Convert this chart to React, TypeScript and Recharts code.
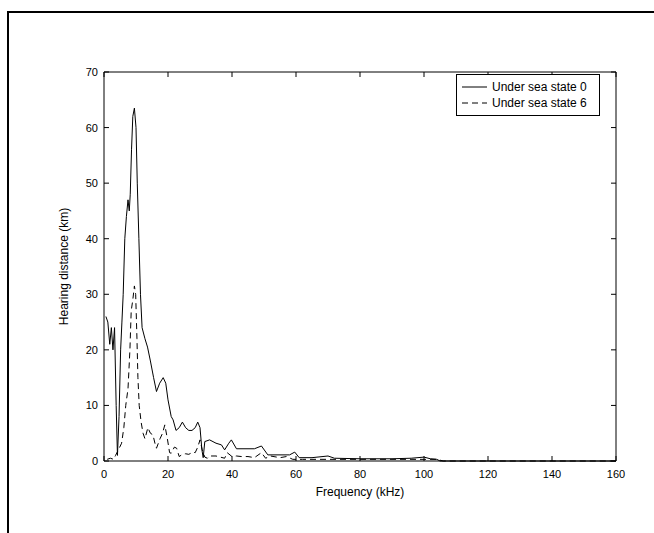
import React from 'react';
import { LineChart, Line, XAxis, YAxis } from 'recharts';

// sea state 0 (solid)
const freq0 = [0.6, 1.2, 1.8, 2.3, 2.8, 3.3, 3.8, 4.2, 4.7, 5.2, 5.6, 6.0, 6.5, 7.0, 7.5, 7.9, 8.2, 8.6, 9.0, 9.5, 10.0, 10.4, 10.9, 11.4, 11.9, 12.8, 13.6, 14.5, 15.5, 16.4, 17.4, 18.5, 19.3, 20.0, 21.0, 21.6, 22.5, 23.5, 24.5, 25.5, 26.5, 27.5, 28.5, 29.3, 30.0, 30.6, 31.0, 31.5, 33.0, 35.0, 36.7, 37.7, 39.0, 39.8, 41.4, 45, 47, 49.2, 51.2, 55, 58, 59.6, 61, 65, 70, 72, 80, 90, 96, 100, 102, 104, 105, 160];
const dist0 = [26, 25, 21, 24, 20, 24, 10, 1, 8, 20, 25, 30, 40, 44, 47, 45, 48, 56, 62, 63.5, 60, 50, 40, 30, 24, 22, 20.5, 18, 15, 12.5, 14, 15, 14, 11, 8, 7.4, 5.5, 6, 7, 6, 5.5, 5.5, 6, 7, 6, 2, 0.6, 3.5, 3.8, 3.2, 2.9, 2, 3.2, 3.8, 2.2, 2.2, 2.2, 2.7, 1.1, 1.1, 1.1, 1.6, 0.6, 0.6, 0.9, 0.5, 0.4, 0.4, 0.5, 0.7, 0.4, 0.3, 0, 0];

// sea state 6 (dashed)
const freq6 = [1.0, 2.0, 3.0, 3.6, 4.5, 5.5, 6.2, 6.8, 7.5, 8.1, 8.5, 9.0, 9.5, 9.9, 10.3, 10.6, 11.0, 11.6, 12.2, 12.8, 13.7, 14.5, 15.3, 16.0, 16.4, 17.5, 18.3, 19.0, 19.8, 20.5, 21.0, 22.0, 22.7, 23.5, 24.5, 25.5, 26.5, 27.8, 28.5, 29.3, 30.0, 30.7, 31.5, 32.3, 33.0, 35, 37.7, 38.5, 40, 41.4, 43, 45, 47, 49.2, 50.5, 52, 55, 57, 59, 62, 70, 80, 90, 100, 104, 106, 160];
const dist6 = [0.3, 0.5, 0.3, 1, 2, 3.2, 6, 10, 13, 20, 27, 29, 31.5, 30, 22, 15, 10, 7, 5, 4, 6, 5, 4.7, 3, 2.3, 4, 5, 6.5, 4, 1.5, 1.4, 2.5, 2.3, 0.8, 1.2, 1.3, 1.2, 1.6, 1.5, 2.5, 3.8, 2, 0.7, 0.5, 0.9, 0.9, 0.5, 1.5, 0.8, 0.9, 0.8, 0.8, 0.6, 1.5, 0.5, 0.9, 0.6, 0.8, 0.3, 0.3, 0.3, 0.3, 0.3, 0.3, 0.3, 0, 0];

const xTicks = [0, 20, 40, 60, 80, 100, 120, 140, 160];
const yTicks = [0, 10, 20, 30, 40, 50, 60, 70];
const seriesNames = ['Under sea state 0', 'Under sea state 6'];

const data0 = freq0.map((f, i) => ({ f, d: dist0[i] }));
const data6 = freq6.map((f, i) => ({ f, d: dist6[i] }));

const FONT = '"Liberation Sans", Arial, sans-serif';

const BottomTick = (props: any) => {
  const { x, y, payload } = props;
  const ay = y - 9;
  return (
    <g>
      <line x1={x} x2={x} y1={ay} y2={ay - 5} stroke="#000" />
      <text x={x} y={ay + 17} textAnchor="middle" fontSize={11} fontFamily={FONT} fill="#000">
        {payload.value}
      </text>
    </g>
  );
};

const TopTick = (props: any) => {
  const { x, y } = props;
  const ay = y + 9;
  return <line x1={x} x2={x} y1={ay} y2={ay + 5} stroke="#000" />;
};

const LeftTick = (props: any) => {
  const { x, y, payload } = props;
  const ax = x + 9;
  return (
    <g>
      <line x1={ax} x2={ax + 5} y1={y} y2={y} stroke="#000" />
      <text x={ax - 6} y={y + 4} textAnchor="end" fontSize={11} fontFamily={FONT} fill="#000">
        {payload.value}
      </text>
    </g>
  );
};

const RightTick = (props: any) => {
  const { x, y } = props;
  const ax = x - 9;
  return <line x1={ax} x2={ax - 5} y1={y} y2={y} stroke="#000" />;
};

const LegendBox = () => (
  <div
    style={{
      position: 'absolute',
      left: 456,
      top: 74,
      width: 144,
      height: 42,
      border: '1px solid #000',
      background: '#fff',
      fontFamily: FONT,
      fontSize: 12,
      boxSizing: 'border-box',
    }}
  >
    {seriesNames.map((name, i) => (
      <div key={name} style={{ display: 'flex', alignItems: 'center', height: 16, marginTop: i === 0 ? 4 : 0 }}>
        <svg width={30} height={10} style={{ marginLeft: 3 }}>
          <line x1={2} x2={27} y1={5} y2={5} stroke="#000" strokeDasharray={i === 1 ? '6 4' : undefined} />
        </svg>
        <span style={{ marginLeft: 2 }}>{name}</span>
      </div>
    ))}
  </div>
);

export default function App() {
  return (
    <div style={{ position: 'absolute', left: 0, top: 0, width: 654, height: 533, overflow: 'hidden', background: '#fff' }}>
      <div
        style={{
          position: 'absolute',
          left: 7,
          top: 11,
          width: 700,
          height: 600,
          borderTop: '2px solid #000',
          borderLeft: '2px solid #000',
        }}
      />
      <div style={{ position: 'absolute', left: 0, top: 0 }}>
        <LineChart width={654} height={533} margin={{ top: 62, right: 28, bottom: 42, left: 64 }}>
          <XAxis
            dataKey="f"
            type="number"
            domain={[0, 160]}
            ticks={xTicks}
            tickSize={5}
            tickMargin={4}
            tickLine={false}
            tick={<BottomTick />}
            axisLine={{ stroke: '#000' }}
            height={30}
            label={{ value: 'Frequency (kHz)', position: 'insideBottom', offset: -5, fill: '#000', fontSize: 12, fontFamily: FONT }}
          />
          <XAxis
            xAxisId="top"
            dataKey="f"
            orientation="top"
            type="number"
            domain={[0, 160]}
            ticks={xTicks}
            tickSize={5}
            tickMargin={4}
            tickLine={false}
            tick={<TopTick />}
            axisLine={{ stroke: '#000' }}
            height={10}
          />
          <YAxis
            type="number"
            domain={[0, 70]}
            ticks={yTicks}
            tickSize={5}
            tickMargin={4}
            tickLine={false}
            tick={<LeftTick />}
            axisLine={{ stroke: '#000' }}
            width={40}
            label={{ value: 'Hearing distance (km)', angle: -90, position: 'insideLeft', offset: 0, fill: '#000', fontSize: 12, fontFamily: FONT, style: { textAnchor: 'middle' } }}
          />
          <YAxis
            yAxisId="right"
            orientation="right"
            type="number"
            domain={[0, 70]}
            ticks={yTicks}
            tickSize={5}
            tickMargin={4}
            tickLine={false}
            tick={<RightTick />}
            axisLine={{ stroke: '#000' }}
            width={10}
          />
          <Line
            data={data0}
            dataKey="d"
            name={seriesNames[0]}
            type="linear"
            stroke="#000"
            strokeWidth={1}
            dot={false}
            isAnimationActive={false}
          />
          <Line
            data={data6}
            dataKey="d"
            name={seriesNames[1]}
            type="linear"
            stroke="#000"
            strokeWidth={1}
            strokeDasharray="6 4"
            dot={false}
            isAnimationActive={false}
          />
          {/* invisible series so the box axes (top/right) get drawn */}
          <Line
            data={data0}
            dataKey="d"
            xAxisId="top"
            yAxisId="right"
            stroke="none"
            dot={false}
            legendType="none"
            isAnimationActive={false}
          />
        </LineChart>
      </div>
      <LegendBox />
    </div>
  );
}
